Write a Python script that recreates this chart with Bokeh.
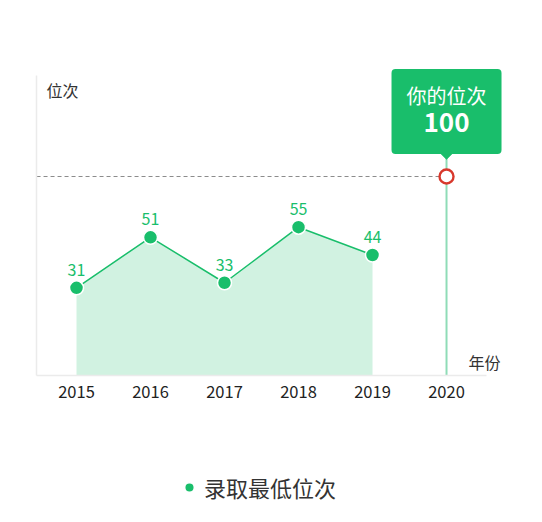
from bokeh.plotting import figure
from bokeh.models import Range1d, FixedTicker, Label, Legend, LegendItem
from bokeh.embed import file_html
from bokeh.resources import INLINE
from bokeh.core.properties import value

# ---- data ----
years = [2015, 2016, 2017, 2018, 2019]
ranks = [31, 51, 33, 55, 44]
rank_labels = [str(r) for r in ranks]
my_year = 2020
my_rank = 100
tick_years = years + [my_year]
series_name = "录取最低位次"
y_title = "位次"
x_title = "年份"
tip_title = "你的位次"
tip_value = str(my_rank)

# ---- styles ----
FONT = "Noto Sans CJK SC"
GREEN = "#19be6b"
AREA = "#d1f2e1"
VLINE = "#8fdcb7"
RED = "#d8382c"
AXIS = "#ebebeb"

W, H = 542, 522
x_lo, x_hi = 2013.973, 2021.297      # whole canvas
y_lo, y_hi = -61.95, 144.78
r_lo, r_hi = -73.87, 188.44           # scale of the "your rank" marker
x_axis_left = years[0] - 0.54
x_axis_right = my_year + 0.54
y_base = -3.73
y_axis_top = 115.1

p = figure(width=W, height=H, output_backend="svg", toolbar_location=None,
           x_range=Range1d(x_lo, x_hi), y_range=Range1d(y_lo, y_hi),
           min_border=0)
p.extra_y_ranges = {"rank": Range1d(r_lo, r_hi)}
p.grid.visible = False
p.outline_line_color = None
p.background_fill_color = "white"
p.border_fill_color = "white"

xa = p.xaxis[0]
xa.fixed_location = y_base
xa.bounds = (x_axis_left, x_axis_right)
xa.ticker = FixedTicker(ticks=tick_years)
xa.major_tick_line_color = None
xa.minor_tick_line_color = None
xa.axis_line_color = AXIS
xa.axis_line_width = 1.5
xa.major_label_text_font = FONT
xa.major_label_text_font_size = "16.5px"
xa.major_label_text_color = "#222222"
xa.major_label_standoff = 5

ya = p.yaxis[0]
ya.fixed_location = x_axis_left
ya.bounds = (y_base, y_axis_top)
ya.ticker = FixedTicker(ticks=[])
ya.major_tick_line_color = None
ya.minor_tick_line_color = None
ya.axis_line_color = AXIS
ya.axis_line_width = 1.5
ya.major_label_text_font_size = "0px"

# pixel -> unit helpers derived from the ranges
ux = (x_hi - x_lo) / W
ur = (r_hi - r_lo) / H

# vertical marker line for "your rank" (from axis up to the tooltip)
p.segment(x0=[my_year], y0=[0], x1=[my_year], y1=[my_rank + 26 * ur],
          y_range_name="rank", line_color=VLINE, line_width=2)

# area + line + points
p.varea(x=years, y1=y_base, y2=ranks, fill_color=AREA)
p.line(years, ranks, line_color=GREEN, line_width=1.5)
pts = p.scatter(years, ranks, size=14, fill_color=GREEN, line_color="white", line_width=1.5)
p.text(x=years, y=ranks, text=rank_labels, text_align="center", text_baseline="middle",
       y_offset=-18, text_color=GREEN, text_font_size="16px", text_font=value(FONT))

# your rank: dashed guide + circle
p.segment(x0=[x_axis_left], y0=[my_rank], x1=[my_year], y1=[my_rank],
          y_range_name="rank", line_color="#8c8c8c", line_dash="4 3", line_width=1.2)
p.scatter([my_year], [my_rank], y_range_name="rank", size=14, fill_color="white",
          line_color=RED, line_width=2.4)

# tooltip pointer
p.patch(x=[my_year - 9 * ux, my_year + 9 * ux, my_year],
        y=[my_rank + 26 * ur, my_rank + 26 * ur, my_rank + 17 * ur],
        y_range_name="rank", fill_color=GREEN, line_color=GREEN, line_width=0.5)
# tooltip box
p.add_layout(Label(x=my_year, y=my_rank, y_range_name="rank", y_offset=65,
                   text=tip_title, text_align="center", text_baseline="middle",
                   text_color="white", text_font=FONT, text_font_size="20px",
                   background_fill_color=GREEN, border_radius=4,
                   padding=dict(left=15, right=15, top=12, bottom=44)))
p.add_layout(Label(x=my_year, y=my_rank, y_range_name="rank", y_offset=54,
                   text=tip_value, text_align="center", text_baseline="middle",
                   text_color="white", text_font=FONT, text_font_size="26px",
                   text_font_style="bold"))

# axis titles
p.add_layout(Label(x=x_axis_left, y=y_axis_top, x_offset=10, y_offset=-15,
                   text=y_title, text_align="left", text_baseline="middle",
                   text_color="#333333", text_font=FONT, text_font_size="16px"))
p.add_layout(Label(x=my_year, y=y_base, x_offset=22, y_offset=13,
                   text=x_title, text_align="left", text_baseline="middle",
                   text_color="#333333", text_font=FONT, text_font_size="16px"))

legend = Legend(items=[LegendItem(label=series_name, renderers=[pts])],
                location=(177, 19), border_line_color=None, background_fill_alpha=0,
                label_text_font=FONT, label_text_font_size="22px",
                label_text_color="#333333", glyph_width=24, glyph_height=24,
                label_standoff=3, padding=10)
p.add_layout(legend)

open("out.html", "w").write(file_html(p, INLINE))
